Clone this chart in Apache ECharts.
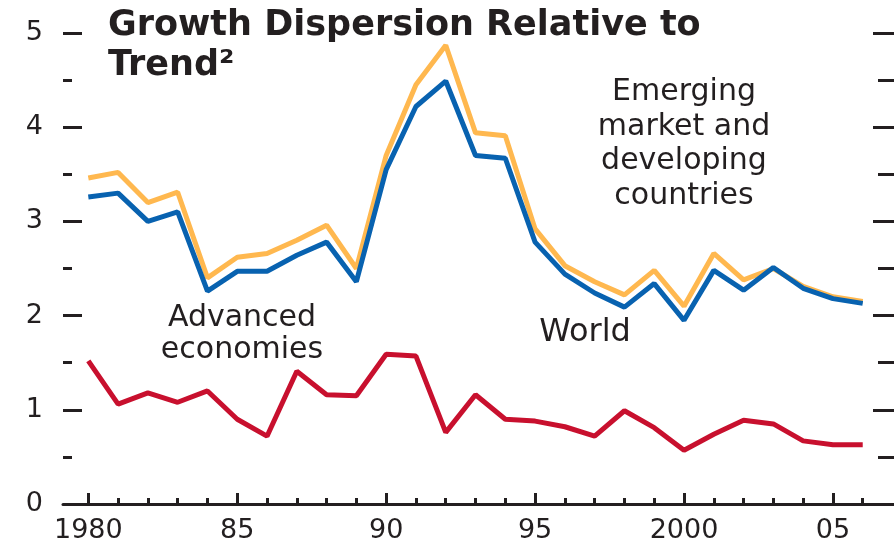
<!DOCTYPE html>
<html>
<head>
<meta charset="utf-8">
<script src="https://cdn.jsdelivr.net/npm/echarts@6/dist/echarts.min.js"></script>
<style>
  html, body { margin: 0; padding: 0; background: #ffffff; }
  #chart { width: 894px; height: 544px; }
</style>
</head>
<body>
<div id="chart"></div>
<script>
// ---- data ----
const years = [1980,1981,1982,1983,1984,1985,1986,1987,1988,1989,1990,1991,1992,1993,1994,1995,1996,1997,1998,1999,2000,2001,2002,2003,2004,2005,2006];
const emerging = [3.46,3.52,3.20,3.31,2.40,2.62,2.66,2.80,2.96,2.50,3.70,4.45,4.87,3.94,3.91,2.92,2.53,2.36,2.22,2.48,2.10,2.66,2.38,2.50,2.31,2.20,2.15];
const world    = [3.26,3.30,3.00,3.10,2.26,2.47,2.47,2.64,2.78,2.36,3.55,4.22,4.49,3.70,3.67,2.78,2.44,2.24,2.09,2.34,1.95,2.48,2.27,2.51,2.29,2.18,2.13];
const advanced = [1.52,1.06,1.18,1.08,1.20,0.90,0.72,1.41,1.16,1.15,1.59,1.57,0.76,1.16,0.90,0.88,0.82,0.72,0.99,0.81,0.57,0.74,0.89,0.85,0.67,0.63,0.63];
const majorYears = [1980,1985,1990,1995,2000,2005];
const majorLabels = ['1980','85','90','95','2000','05'];
const minorYears = years.filter(y => majorYears.indexOf(y) < 0);

const INK = '#231F20';
const FONT = '"DejaVu Sans", sans-serif';

const chart = echarts.init(document.getElementById('chart'), null, { renderer: 'canvas' });

const pairs = arr => years.map((y, i) => [y, arr[i]]);

chart.setOption({
  animation: false,
  backgroundColor: '#ffffff',
  grid: { left: 63, right: 0, top: 33, bottom: 37, containLabel: false },
  xAxis: [
    {
      type: 'value', min: 1979.15, max: 2007.05, position: 'bottom',
      splitLine: { show: false },
      axisLine: { show: true, lineStyle: { color: INK, width: 3 } },
      axisTick: { show: true, inside: true, length: 11, customValues: majorYears, lineStyle: { color: INK, width: 3 } },
      axisLabel: {
        show: true, customValues: majorYears, margin: 13,
        formatter: v => majorLabels[majorYears.indexOf(Math.round(v))] || '',
        color: INK, fontFamily: FONT, fontSize: 27
      }
    },
    {
      type: 'value', min: 1979.15, max: 2007.05, position: 'bottom',
      splitLine: { show: false },
      axisLine: { show: false },
      axisTick: { show: true, inside: true, length: 6, customValues: minorYears, lineStyle: { color: INK, width: 3 } },
      axisLabel: { show: false }
    }
  ],
  yAxis: [
    {
      type: 'value', min: 0, max: 5, interval: 1, position: 'left',
      splitLine: { show: false },
      axisLine: { show: false },
      axisTick: { show: true, inside: true, length: 19, lineStyle: { color: INK, width: 3 } },
      minorTick: { show: true, splitNumber: 2, length: 9, lineStyle: { color: INK, width: 3 } },
      minorSplitLine: { show: false },
      axisLabel: { margin: 20, color: INK, fontFamily: FONT, fontSize: 27 }
    },
    {
      type: 'value', min: 0, max: 5, interval: 1, position: 'right',
      splitLine: { show: false },
      axisLine: { show: false },
      axisTick: { show: true, inside: true, length: 21, lineStyle: { color: INK, width: 3 } },
      minorTick: { show: true, splitNumber: 2, length: 16, lineStyle: { color: INK, width: 3 } },
      minorSplitLine: { show: false },
      axisLabel: { show: false }
    }
  ],
  series: [
    {
      name: 'Emerging market and developing countries', type: 'line', data: pairs(emerging),
      symbol: 'none', lineStyle: { color: '#FFB84F', width: 5 }, itemStyle: { color: '#FFB84F' }, z: 2
    },
    {
      name: 'World', type: 'line', data: pairs(world),
      symbol: 'none', lineStyle: { color: '#0862B0', width: 5 }, itemStyle: { color: '#0862B0' }, z: 3
    },
    {
      name: 'Advanced economies', type: 'line', data: pairs(advanced),
      symbol: 'none', lineStyle: { color: '#C8102E', width: 5 }, itemStyle: { color: '#C8102E' }, z: 3
    }
  ],
  graphic: [
    {
      type: 'text', left: 108, top: 6,
      style: {
        text: 'Growth Dispersion Relative to\nTrend²',
        fill: INK, fontFamily: FONT, fontWeight: 'bold', fontSize: 35, lineHeight: 40
      }
    },
    {
      type: 'text', x: 684, y: 75,
      style: {
        text: 'Emerging\nmarket and\ndeveloping\ncountries',
        fill: INK, fontFamily: FONT, fontSize: 30, lineHeight: 34.5,
        align: 'center', verticalAlign: 'top'
      }
    },
    {
      type: 'text', x: 242, y: 302,
      style: {
        text: 'Advanced\neconomies',
        fill: INK, fontFamily: FONT, fontSize: 30, lineHeight: 32,
        align: 'center', verticalAlign: 'top'
      }
    },
    {
      type: 'text', x: 585, y: 333,
      style: {
        text: 'World',
        fill: INK, fontFamily: FONT, fontSize: 32,
        align: 'center', verticalAlign: 'middle'
      }
    }
  ]
});
</script>
</body>
</html>
